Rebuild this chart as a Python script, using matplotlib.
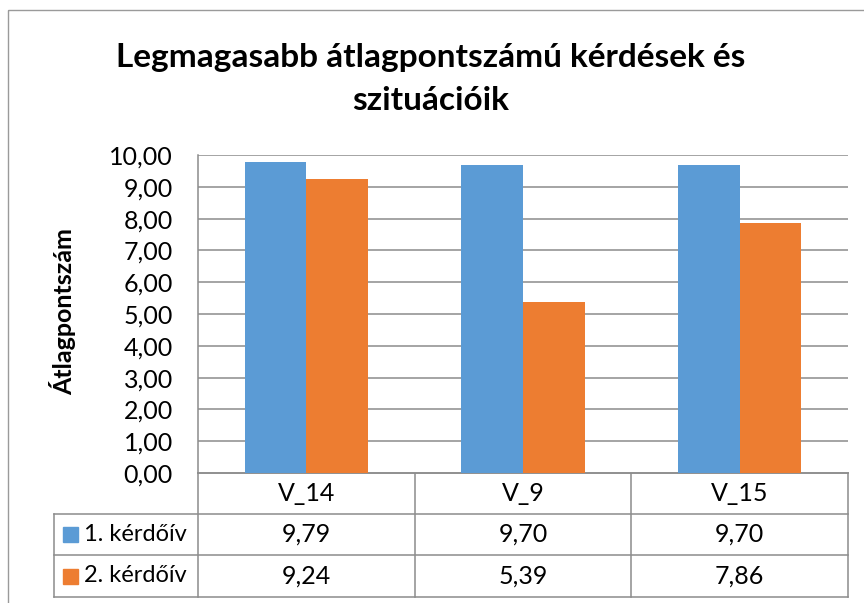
import matplotlib.pyplot as plt
import matplotlib.patches as mpatches

plt.rcParams['font.family'] = ['Lato', 'DejaVu Sans']

# Data
categories = ['V_14', 'V_9', 'V_15']
series_names = ['1. kérdőív', '2. kérdőív']
series_values = [
    [9.79, 9.70, 9.70],
    [9.24, 5.39, 7.86],
]
colors = ['#5B9BD5', '#ED7D31']
title_lines = ['Legmagasabb átlagpontszámú kérdések és', 'szituációik']
ylabel = 'Átlagpontszám'

W, H = 864, 603
fig = plt.figure(figsize=(W / 100, H / 100), dpi=100)

# background axes in pixel coordinates for frame, title and data table
bg = fig.add_axes([0, 0, 1, 1])
bg.set_xlim(0, W)
bg.set_ylim(H, 0)
bg.axis('off')

# chart area border
bg.add_patch(mpatches.Rectangle((8, 10), W, H, fill=False, edgecolor='#9a9a9a', linewidth=1))

# plot area
px0, px1, py0, py1 = 198, 848, 155, 473
ax = fig.add_axes([px0 / W, 1 - py1 / H, (px1 - px0) / W, (py1 - py0) / H])

n = len(categories)
width = 0.285
for i, (name, vals) in enumerate(zip(series_names, series_values)):
    offs = (i - 0.5) * width
    ax.bar([k + offs for k in range(n)], vals, width, color=colors[i], zorder=3)

ax.set_xlim(-0.5, n - 0.5)
ax.set_ylim(0, 10)
ax.set_yticks(range(0, 11))
ax.set_yticklabels([f'{v:.2f}'.replace('.', ',') for v in range(0, 11)], fontsize=18)
ax.set_xticks([])
ax.tick_params(axis='y', length=0, pad=18)
ax.grid(axis='y', color='#8c8c8c', linewidth=1.1, zorder=0)
for side in ['top', 'right']:
    ax.spines[side].set_visible(False)
for side in ['left', 'bottom']:
    ax.spines[side].set_color('#8c8c8c')
    ax.spines[side].set_linewidth(1.1)

bg.text(63, 312, ylabel, rotation=90, ha='center', va='center', fontsize=18, fontweight='bold')

# title
bg.text(431, 58, title_lines[0], ha='center', va='center', fontsize=24, fontweight='bold')
bg.text(431, 100, title_lines[1], ha='center', va='center', fontsize=24, fontweight='bold')

# data table
col_w = (px1 - px0) / n
row_y = [473, 514, 555, 597]
tbl_left = 54
lc = '#8c8c8c'
bg.plot([px0, px1], [row_y[0], row_y[0]], color=lc, lw=1.1)
for y in row_y[1:]:
    bg.plot([tbl_left, px1], [y, y], color=lc, lw=1.1)
bg.plot([tbl_left, tbl_left], [row_y[1], row_y[3]], color=lc, lw=1.1)
for k in range(n + 1):
    x = px0 + k * col_w
    bg.plot([x, x], [row_y[0], row_y[3]], color=lc, lw=1.1)

for k, cat in enumerate(categories):
    bg.text(px0 + (k + 0.5) * col_w, (row_y[0] + row_y[1]) / 2, cat,
            ha='center', va='center', fontsize=18)
for i, (name, vals) in enumerate(zip(series_names, series_values)):
    yc = (row_y[i + 1] + row_y[i + 2]) / 2
    bg.add_patch(mpatches.Rectangle((63, yc - 7.5), 15, 15, color=colors[i]))
    bg.text(84, yc, name, ha='left', va='center', fontsize=17)
    for k, v in enumerate(vals):
        bg.text(px0 + (k + 0.5) * col_w, yc, f'{v:.2f}'.replace('.', ','),
                ha='center', va='center', fontsize=18)

fig.savefig('out.png', dpi=100)
